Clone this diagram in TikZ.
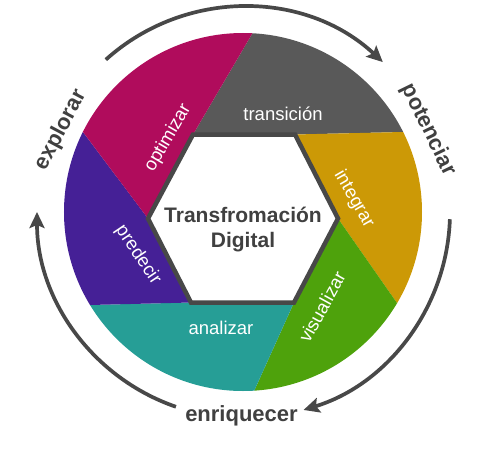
\documentclass[tikz,border=0pt]{standalone}
\usepackage{fontspec}
\setmainfont{Liberation Sans}
\usetikzlibrary{arrows.meta,calc}

\definecolor{segmagenta}{RGB}{176,12,92}
\definecolor{seggray}{RGB}{89,89,89}
\definecolor{seggold}{RGB}{204,153,6}
\definecolor{seggreen}{RGB}{78,162,12}
\definecolor{segteal}{RGB}{38,158,150}
\definecolor{segpurple}{RGB}{69,32,150}
\definecolor{darktext}{RGB}{64,64,64}
\definecolor{rimgray}{RGB}{72,72,72}

\tikzset{
  seglabel/.style={text=white, font=\fontsize{18.5}{21}\selectfont},
  centerlabel/.style={text=darktext, align=center, font=\bfseries\fontsize{21}{25}\selectfont},
  outerlabel/.style={text=darktext, font=\bfseries\fontsize{22}{24}\selectfont},
  cyclearrow/.style={draw=rimgray, line width=3.7pt, -{Stealth[length=16pt,width=15pt,inset=3pt]}},
  hexline/.style={draw=rimgray, line width=4.5pt, fill=white}
}

\begin{document}
\begin{tikzpicture}[x=1pt, y=1pt]
  \useasboundingbox (-243,-249) rectangle (252,212);

  % corners of the hexagon
  \coordinate (v0) at (-95,-6.5);
  \coordinate (v1) at (-50,77.5);
  \coordinate (v2) at (52,77.5);
  \coordinate (v3) at (95,-6.5);
  \coordinate (v4) at (51,-90.5);
  \coordinate (v5) at (-52,-90.5);
  % where the cuts reach the rim
  \coordinate (p0) at (-160,80);
  \coordinate (p1) at (9,178);
  \coordinate (p2) at (160,80);
  \coordinate (p3) at (154,-91);
  \coordinate (p4) at (12,-177);
  \coordinate (p5) at (-153,-93);

  \begin{scope}
    \clip (0,0) circle (179);
    \fill[seggray] (v1) -- (v2) -- ($(v2)!3!(p2)$) -- ($(v1)!3!(p1)$) -- cycle;
    \fill[seggold] (v2) -- (v3) -- ($(v3)!3!(p3)$) -- ($(v2)!3!(p2)$) -- cycle;
    \fill[seggreen] (v3) -- (v4) -- ($(v4)!3!(p4)$) -- ($(v3)!3!(p3)$) -- cycle;
    \fill[segteal] (v4) -- (v5) -- ($(v5)!3!(p5)$) -- ($(v4)!3!(p4)$) -- cycle;
    \fill[segpurple] (v5) -- (v0) -- ($(v0)!3!(p0)$) -- ($(v5)!3!(p5)$) -- cycle;
    \fill[segmagenta] (v0) -- (v1) -- ($(v1)!3!(p1)$) -- ($(v0)!3!(p0)$) -- cycle;
  \end{scope}

  \draw[hexline] (v0) -- (v1) -- (v2) -- (v3) -- (v4) -- (v5) -- cycle;

  \node[seglabel] (transicion) at (40,98) {transición};
  \node[seglabel, rotate=60] (optimizar) at (-75,74) {optimizar};
  \node[seglabel, rotate=-60] (integrar) at (111,13) {integrar};
  \node[seglabel, rotate=61] (visualizar) at (79,-95) {visualizar};
  \node[seglabel] (analizar) at (-22,-116) {analizar};
  \node[seglabel, rotate=-56] (predecir) at (-105,-43) {predecir};
  \node[centerlabel] (digital) at (0,-18) {Transfromación\\Digital};

  \node[outerlabel, rotate=62] (explorar) at (-182,82) {explorar};
  \node[outerlabel, rotate=-64] (potenciar) at (185.5,82) {potenciar};
  \node[outerlabel] (enriquecer) at (-1.5,-204) {enriquecer};

  \draw[cyclearrow] (132:205) arc[start angle=132, end angle=47, radius=205];
  \draw[cyclearrow] (-2:207) arc[start angle=-2, end angle=-73, radius=207];
  \draw[cyclearrow] (251:206) arc[start angle=251, end angle=180, radius=206];
\end{tikzpicture}
\end{document}
